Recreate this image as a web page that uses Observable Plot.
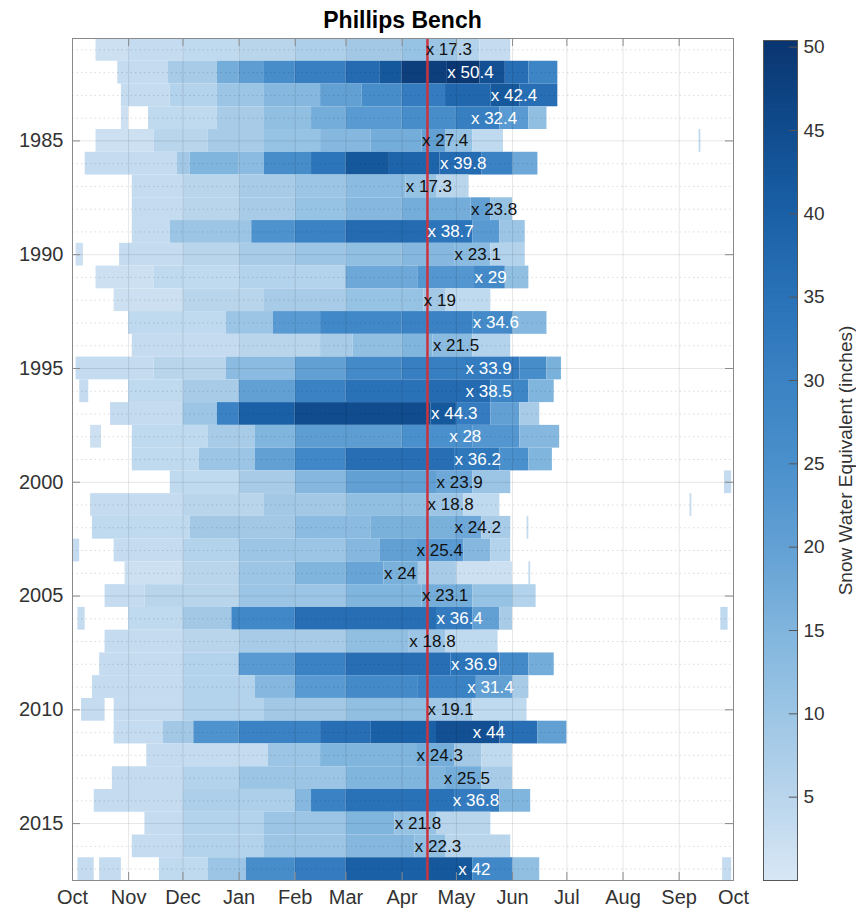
<!DOCTYPE html>
<html><head><meta charset="utf-8">
<script src="https://cdn.jsdelivr.net/npm/d3@7"></script>
<script src="https://cdn.jsdelivr.net/npm/@observablehq/plot@0.6"></script>
<style>
body{margin:0;background:#fff;font-family:"Liberation Sans",Arial,Helvetica,sans-serif;}
#wrap{position:relative;width:856px;height:913px;overflow:hidden;background:#fff;}
#title{position:absolute;left:72px;width:661px;top:9px;text-align:center;font-weight:bold;font-size:23px;color:#000;line-height:1;}
#main{position:absolute;left:0;top:0;}
#cbar{position:absolute;left:745px;top:0;}
#main svg{overflow:visible;}
</style></head><body>
<div id="wrap"><div id="main"></div><div id="cbar"></div><div id="title">Phillips Bench</div></div>
<script>
// ---- data ----
const years = d3.range(1981, 2018);
const peakSWE = [17.3, 50.4, 42.4, 32.4, 27.4, 39.8, 17.3, 23.8, 38.7, 23.1, 29, 19, 34.6, 21.5, 33.9, 38.5, 44.3, 28, 36.2,
  23.9, 18.8, 24.2, 25.4, 24, 23.1, 36.4, 18.8, 36.9, 31.4, 19.1, 44, 24.3, 25.5, 36.8, 21.8, 22.3, 42];
const peakDate = ["04-14","04-26","05-20","05-09","04-12","04-22","04-03","05-09","04-15","04-30","05-11","04-13","05-10",
  "04-18","05-06","05-06","04-17","04-27","04-30","04-20","04-15","04-30","04-09","03-22","04-12","04-20","04-05","04-28",
  "05-07","04-15","05-10","04-09","04-24","04-29","03-28","04-08","05-02"];
const referenceDate = "04-15";
// daily SWE per water year, as runs: [start MM-DD, inches]; a run lasts until the next start; null = no snow
const sweRuns = [
  [["10-14",2],["11-01",3],["12-01",4],["01-01",5],["02-01",7],["03-01",9],["04-01",11],["04-15",10],["05-01",6],["05-14",3],["05-31",null]],
  [["10-26",3],["11-23",8],["12-20",17],["01-01",21],["01-15",26],["02-01",31],["03-01",37],["03-20",42],["04-01",48],["04-26",50],["05-14",44],["05-28",36],["06-10",29],["06-26",null]],
  [["10-28",3],["11-24",6],["12-20",10],["01-15",14],["02-15",20],["03-10",26],["04-01",32],["04-25",38],["05-20",42],["06-05",36],["06-26",null]],
  [["10-28",2],["11-01",null],["11-12",4],["12-20",8],["01-15",12],["02-10",17],["03-01",22],["04-01",26],["05-01",31],["05-25",22],["06-10",12],["06-20",null]],
  [["10-14",2],["11-15",5],["12-15",8],["01-15",11],["02-15",14],["03-15",17],["04-12",20],["04-25",11],["05-10",4],["05-27",null],["09-12",4],["09-13",null]],
  [["10-08",3],["11-28",9],["12-05",15],["01-01",13],["01-15",26],["02-10",34],["03-01",42],["03-25",39],["04-22",37],["05-15",30],["06-01",18],["06-15",null]],
  [["11-03",3],["12-01",5],["01-01",8],["02-01",10],["03-01",13],["04-03",11],["04-20",5],["05-08",null]],
  [["11-03",3],["12-01",5],["01-01",8],["02-01",11],["03-01",14],["04-01",17],["05-09",20],["05-20",11],["06-01",null]],
  [["11-03",3],["11-24",10],["01-08",24],["02-01",30],["03-01",37],["04-15",34],["05-10",22],["05-25",10],["06-08",null]],
  [["10-03",2],["10-07",null],["10-27",3],["12-01",5],["01-01",8],["02-01",10],["03-01",12],["04-01",14],["04-30",13],["05-20",6],["06-08",null]],
  [["10-14",2],["11-15",4],["01-01",6],["03-01",18],["04-10",23],["05-11",27],["05-28",12],["06-10",null]],
  [["10-24",2],["12-01",5],["01-15",8],["03-01",11],["04-13",9],["04-25",4],["05-20",null]],
  [["11-01",4],["12-25",10],["01-20",22],["02-15",28],["04-01",30],["05-10",27],["06-01",14],["06-20",null]],
  [["11-03",3],["01-01",5],["02-15",8],["03-05",12],["04-01",15],["04-18",13],["05-10",6],["05-31",null]],
  [["10-03",3],["11-15",5],["12-25",13],["02-01",20],["03-01",27],["04-01",31],["05-06",32],["06-05",26],["06-20",16],["06-28",null]],
  [["10-05",3],["10-10",null],["11-01",4],["12-01",8],["01-01",20],["02-01",30],["03-01",35],["04-15",37],["05-20",29],["06-10",15],["06-24",null]],
  [["10-22",3],["12-01",10],["12-20",30],["01-01",40],["02-01",45],["04-17",42],["05-01",32],["05-20",20],["06-05",8],["06-16",null]],
  [["10-11",2],["10-17",null],["11-03",4],["12-15",8],["01-10",15],["02-01",21],["04-01",25],["05-10",23],["06-05",14],["06-27",null]],
  [["11-03",4],["12-10",10],["01-10",20],["02-01",28],["03-01",36],["04-30",33],["05-25",25],["06-10",15],["06-23",null]],
  [["11-24",4],["01-01",8],["02-01",14],["03-01",20],["04-20",18],["05-10",10],["05-31",null],["09-26",3],["09-30",null]],
  [["10-11",3],["12-01",5],["01-15",9],["03-01",12],["04-15",10],["05-05",4],["05-25",null],["09-07",3],["09-08",null]],
  [["10-12",4],["12-05",9],["02-01",13],["03-15",16],["04-30",18],["05-15",8],["05-31",null],["06-09",3],["06-10",null]],
  [["10-01",3],["10-05",null],["10-24",3],["12-01",6],["01-01",10],["03-01",14],["03-20",20],["04-09",22],["05-05",14],["05-20",6],["05-31",null]],
  [["10-30",2],["12-01",5],["01-01",10],["02-01",15],["03-01",19],["03-22",16],["04-10",8],["05-01",2],["06-01",null],["06-10",3],["06-11",null]],
  [["10-19",3],["11-10",5],["01-01",10],["03-01",15],["04-12",17],["05-10",11],["06-01",6],["06-14",null]],
  [["10-04",3],["10-08",null],["11-01",4],["12-01",9],["12-28",28],["02-01",36],["04-20",32],["05-10",20],["05-25",8],["06-01",null],["09-24",4],["09-28",null]],
  [["10-19",3],["12-01",5],["01-01",8],["03-01",12],["04-05",10],["04-25",4],["05-24",null]],
  [["10-16",3],["12-01",6],["01-01",22],["02-01",30],["03-01",36],["04-28",34],["05-25",27],["06-10",17],["06-24",null]],
  [["10-12",3],["12-01",6],["01-10",14],["02-01",22],["03-01",27],["04-10",30],["05-12",20],["06-01",8],["06-10",null]],
  [["10-06",3],["10-19",null],["10-24",3],["12-01",6],["01-15",9],["03-01",12],["04-15",9],["05-10",4],["06-09",null]],
  [["10-24",3],["11-20",9],["12-07",24],["01-01",30],["02-15",36],["03-15",40],["04-20",44],["05-25",36],["06-15",20],["07-01",null]],
  [["11-11",3],["01-17",10],["02-15",15],["04-09",17],["04-30",9],["05-15",4],["06-01",null]],
  [["10-23",3],["12-01",6],["01-01",10],["03-01",15],["04-25",17],["05-15",8],["06-01",null]],
  [["10-13",3],["12-01",7],["02-01",14],["02-10",30],["03-01",35],["04-30",32],["05-25",15],["06-11",null]],
  [["11-10",3],["12-01",6],["01-15",10],["03-01",15],["03-28",11],["04-20",5],["05-20",null]],
  [["11-03",3],["12-01",6],["01-15",10],["03-01",14],["04-08",12],["04-25",5],["05-31",null]],
  [["10-04",3],["10-13",null],["10-16",3],["10-28",null],["11-18",4],["12-15",10],["01-05",26],["02-01",32],["03-01",40],["04-15",42],["05-10",28],["06-01",12],["06-16",null],["09-25",3],["09-30",null]]
];
const monthLabels = ["Oct","Nov","Dec","Jan","Feb","Mar","Apr","May","Jun","Jul","Aug","Sep","Oct"];
const yearTicks = [1985, 1990, 1995, 2000, 2005, 2010, 2015];
const colorTicks = [5, 10, 15, 20, 25, 30, 35, 40, 45, 50];
const colorStopValues = [0, 5, 10, 15, 20, 25, 30, 35, 40, 45, 50.4];
const colorStopColors = ["#d8e7f5","#b9d5ec","#9cc5e5","#80b5dd","#62a0d4","#4a90cc","#3a82c3","#2a72b8","#1a60a6","#104c8e","#0a3570"];

// ---- build tables ----
const toDate = s => { const [m, d] = s.split("-").map(Number); return new Date(Date.UTC(m >= 10 ? 2000 : 2001, m - 1, d)); };
const xStart = new Date(Date.UTC(2000, 9, 1)), xEnd = new Date(Date.UTC(2001, 9, 1));
const cells = [];
years.forEach((y, i) => {
  const runs = sweRuns[i];
  for (let j = 0; j < runs.length - 1; j++) {
    if (runs[j][1] == null) continue;
    cells.push({year: y, x1: toDate(runs[j][0]), x2: toDate(runs[j + 1][0]), swe: runs[j][1]});
  }
});
const peaks = years.map((y, i) => ({year: y, date: toDate(peakDate[i]), swe: peakSWE[i]}));
const monthTicks = d3.utcMonth.range(xStart, d3.utcDay.offset(xEnd, 1));
const colorScale = {type: "linear", domain: colorStopValues, range: colorStopColors, clamp: true};
const font = '"Liberation Sans", Arial, Helvetica, sans-serif';
const axisGray = "#8a8a8a";
const tickLen = 106; // hours, ~8px

const main = Plot.plot({
  width: 745, height: 913,
  marginLeft: 72, marginRight: 12, marginTop: 38, marginBottom: 33,
  style: {fontFamily: font, fontSize: "20px", color: "#333", background: "transparent", overflow: "visible"},
  x: {type: "utc", domain: [xStart, xEnd], label: null},
  y: {domain: [1980.5, 2017.5], reverse: true, label: null},
  color: colorScale,
  marks: [
    Plot.rect(cells, {x1: "x1", x2: "x2", y1: d => d.year - 0.5, y2: d => d.year + 0.5, fill: "swe"}),
    Plot.ruleX(monthTicks.slice(1, -1), {stroke: "#000", strokeOpacity: 0.1}),
    Plot.ruleY(yearTicks, {stroke: "#000", strokeOpacity: 0.1}),
    Plot.ruleY(years.filter(y => !yearTicks.includes(y)), {stroke: "#000", strokeOpacity: 0.14, strokeDasharray: "1.5,3"}),
    Plot.ruleX([toDate(referenceDate)], {stroke: "#cc3340", strokeWidth: 2.5}),
    Plot.text(peaks, {filter: d => d.swe <= 27.5, x: "date", y: "year", text: d => "x " + d.swe, textAnchor: "start", fill: "#111", fontSize: 17}),
    Plot.text(peaks, {filter: d => d.swe > 27.5, x: "date", y: "year", text: d => "x " + d.swe, textAnchor: "start", fill: "white", fontSize: 17}),
    Plot.frame({stroke: axisGray}),
    Plot.ruleY(yearTicks, {x1: xStart, x2: d3.utcHour.offset(xStart, tickLen), stroke: axisGray}),
    Plot.ruleY(yearTicks, {x1: d3.utcHour.offset(xEnd, -tickLen), x2: xEnd, stroke: axisGray}),
    Plot.ruleX(monthTicks, {y1: 1980.5, y2: 1980.85, stroke: axisGray}),
    Plot.ruleX(monthTicks, {y1: 2017.15, y2: 2017.5, stroke: axisGray}),
    Plot.axisX(monthTicks, {anchor: "bottom", tickSize: 0, tickPadding: 9, tickFormat: (d, i) => monthLabels[i], fontSize: 20, fill: "#333", label: null}),
    Plot.axisY(yearTicks, {anchor: "left", tickSize: 0, tickPadding: 9, tickFormat: d => String(d), fontSize: 20, fill: "#333", label: null})
  ]
});
document.getElementById("main").appendChild(main);

const rampStep = 0.1;
const ramp = d3.range(0, 50.4, rampStep).map(v => ({v}));
const cbar = Plot.plot({
  width: 111, height: 913,
  marginLeft: 18, marginRight: 59, marginTop: 40, marginBottom: 33,
  style: {fontFamily: font, fontSize: "19px", color: "#333", background: "transparent"},
  x: {domain: [0, 1], axis: null},
  y: {domain: [0, 50.4], label: null},
  color: colorScale,
  marks: [
    Plot.rect(ramp, {x1: 0, x2: 1, y1: "v", y2: d => Math.min(50.4, d.v + rampStep + 0.05), fill: "v"}),
    Plot.frame({stroke: "#555"}),
    Plot.ruleY(colorTicks, {x1: 0.76, x2: 1, stroke: "#555"}),
    Plot.axisY(colorTicks, {anchor: "right", tickSize: 0, tickPadding: 6, fontSize: 19, fill: "#333", label: null}),
    Plot.text(["Snow Water Equivalent (inches)"], {frameAnchor: "right", rotate: -90, dx: 48, textAnchor: "middle", lineAnchor: "middle", fontSize: 19, fill: "#333"})
  ]
});
document.getElementById("cbar").appendChild(cbar);
</script>
</body></html>
